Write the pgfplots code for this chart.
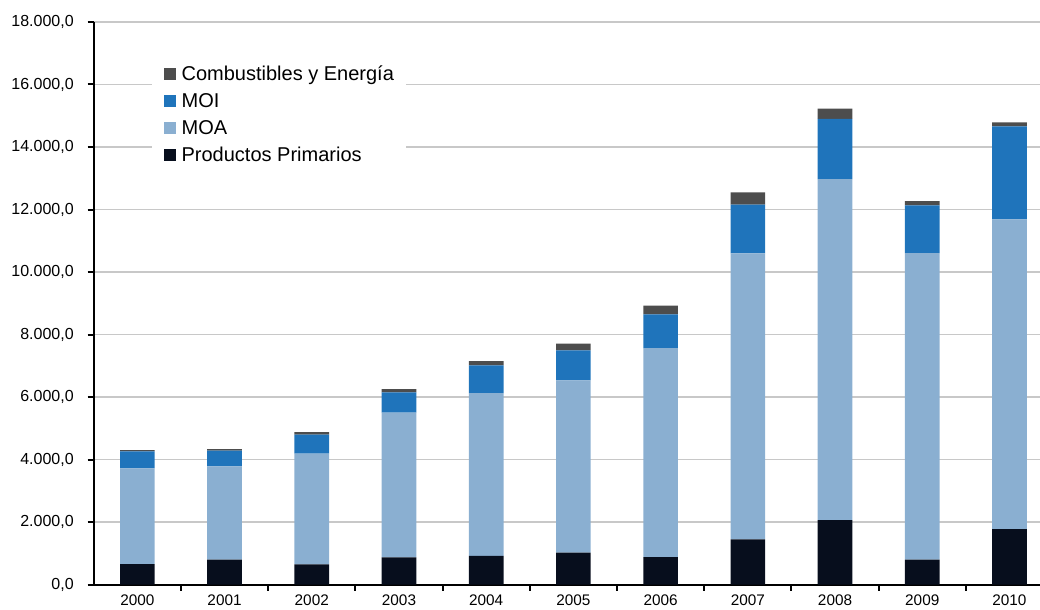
\documentclass[border=0pt]{standalone}
\usepackage{pgfplots}
\pgfplotsset{compat=1.18}
\usepackage{fontspec}
\setmainfont{Liberation Sans}

\definecolor{cPP}{HTML}{070E1D}
\definecolor{cMOA}{HTML}{8AAFD1}
\definecolor{cMOI}{HTML}{1F74BB}
\definecolor{cCYE}{HTML}{4D4D4D}
\definecolor{cGrid}{HTML}{C8C8C8}

\begin{document}
\begin{tikzpicture}
\begin{axis}[
  at={(0,0)}, anchor=south west,
  scale only axis,
  width=709.7pt, height=421.9pt,
  ybar stacked, bar width=26pt,
  xmin=-0.5, xmax=10.35,
  ymin=0, ymax=18000,
  axis lines*=left,
  axis line style={-, line width=1.5pt, black},
  clip=false,
  tick align=outside,
  xtick={0,...,10},
  xticklabels={2000,2001,2002,2003,2004,2005,2006,2007,2008,2009,2010},
  xtick style={draw=none},
  extra x ticks={0.5,1.5,2.5,3.5,4.5,5.5,6.5,7.5,8.5,9.5},
  extra x tick labels={},
  extra x tick style={xtick style={draw=black, line width=1.5pt}, major tick length=4.5pt},
  ytick={0,2000,...,18000},
  ytick style={draw=black, line width=1.5pt},
  major tick length=4.5pt,
  ymajorgrids,
  grid style={cGrid, line width=0.8pt},
  scaled y ticks=false,
  yticklabel={\pgfmathprintnumber[fixed, fixed zerofill, precision=1,
    set thousands separator={.}, set decimal separator={,},
    assume math mode=true]{\tick}},
  xticklabel style={font=\fontsize{11.5}{13}\selectfont},
  yticklabel style={font=\fontsize{12}{13}\selectfont, xshift=-7pt},
  legend cell align=left,
  reverse legend,
  legend style={
    at={(0.0616,0.9357)}, anchor=north west,
    draw=none, fill=white,
    inner xsep=9pt, inner ysep=6pt,
    font=\fontsize{15}{17}\selectfont,
    nodes={inner sep=0pt, text height=10.5pt, text depth=3pt, anchor=base west},
    row sep=6.75pt,
  },
  legend image code/.code={\fill[#1] (0pt,0.6pt) rectangle (9pt,9.6pt);
    \path (13pt,0pt);},
]
% Productos Primarios
\addplot+[fill=cPP, draw=none] coordinates {
  (0,656) (1,794) (2,646) (3,870) (4,920) (5,1018)
  (6,880) (7,1446) (8,2064) (9,794) (10,1776)};
% MOA
\addplot+[fill=cMOA, draw=none] coordinates {
  (0,3062) (1,2990) (2,3540) (3,4627) (4,5206) (5,5517)
  (6,6688) (7,9152) (8,10912) (9,9814) (10,9910)};
% MOI
\addplot+[fill=cMOI, draw=none] coordinates {
  (0,544) (1,500) (2,608) (3,653) (4,886) (5,960)
  (6,1078) (7,1555) (8,1920) (9,1526) (10,2976)};
% Combustibles y Energía
\addplot+[fill=cCYE, draw=none] coordinates {
  (0,40) (1,45) (2,86) (3,106) (4,138) (5,211)
  (6,275) (7,397) (8,330) (9,138) (10,128)};
\legend{Productos Primarios, MOA, MOI, Combustibles y Energía}
\end{axis}
\pgfresetboundingbox
\useasboundingbox (-70.3pt,-19.1pt) rectangle (709.7pt,438.4pt);
\end{tikzpicture}
\end{document}
